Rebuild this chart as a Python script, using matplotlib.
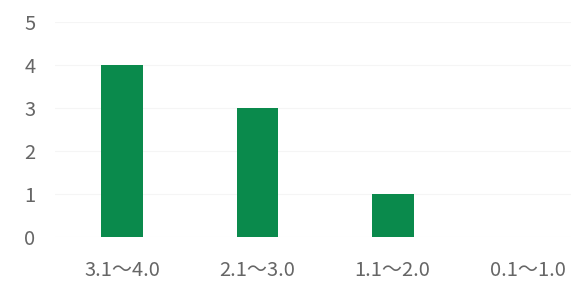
import matplotlib.pyplot as plt

categories = ["3.1～4.0", "2.1～3.0", "1.1～2.0", "0.1～1.0"]
counts = [4, 3, 1, 0]
y_ticks = [0, 1, 2, 3, 4, 5]

plt.rcParams["font.family"] = ["Noto Sans CJK JP", "DejaVu Sans"]

fig = plt.figure(figsize=(5.71, 2.82), dpi=100)
ax = fig.add_axes([0.096, 0.16, 0.904, 0.762])

x = list(range(len(categories)))
ax.bar(x, counts, width=0.31, color="#0a8a4c", zorder=2)

ax.set_xlim(-0.5, 3.32)
ax.set_ylim(0, 5)
ax.set_yticks(y_ticks)
ax.set_xticks(x)
ax.set_xticklabels(categories)
ax.yaxis.grid(True, color="#f5f5f5", linewidth=0.8, zorder=0)
ax.tick_params(axis="both", length=0, labelsize=14.5, labelcolor="#666666")
ax.tick_params(axis="x", pad=17)
ax.tick_params(axis="y", pad=14)
for s in ax.spines.values():
    s.set_visible(False)

fig.savefig("out.png", dpi=100)
